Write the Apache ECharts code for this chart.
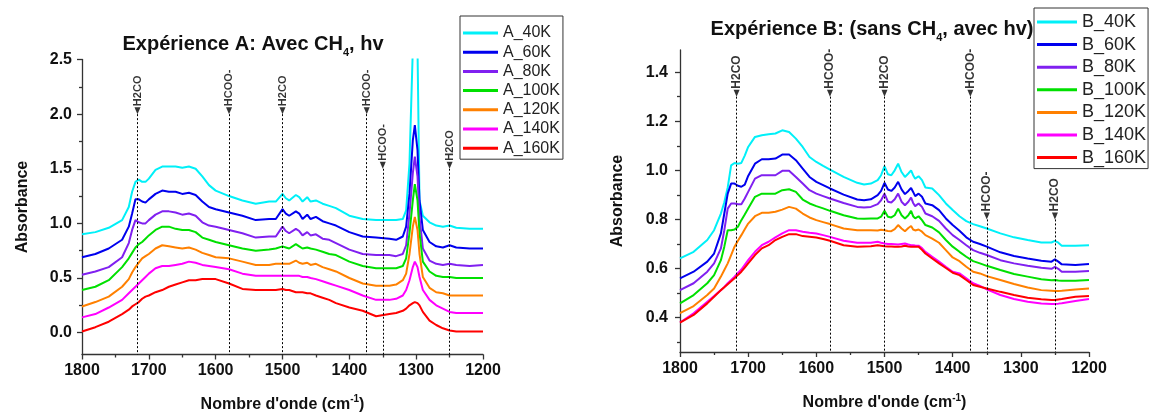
<!DOCTYPE html>
<html><head><meta charset="utf-8">
<script src="https://cdn.jsdelivr.net/npm/echarts@6/dist/echarts.min.js"></script>
<style>html,body{margin:0;padding:0;background:#fff}#c{width:1151px;height:414px}</style>
</head><body><div id="c"></div>
<script>
// ---------- DATA: Expérience A ----------
const wavenumberA = [1800,1780,1760,1740,1730,1725,1720,1715,1710,1705,1700,1690,1680,1670,1660,1650,1640,1630,1620,1610,1600,1580,1560,1540,1520,1510,1500,1495,1490,1480,1475,1470,1463,1458,1450,1440,1430,1420,1400,1380,1360,1340,1330,1320,1315,1310,1305,1302,1298,1295,1290,1280,1270,1260,1250,1240,1220,1200];
const A_40K  = [.90,.92,.96,1.03,1.15,1.29,1.38,1.40,1.38,1.38,1.41,1.49,1.52,1.52,1.52,1.51,1.52,1.50,1.43,1.35,1.30,1.25,1.21,1.18,1.20,1.20,1.27,1.23,1.21,1.26,1.24,1.20,1.24,1.20,1.21,1.18,1.16,1.14,1.07,1.04,1.03,1.03,1.03,1.04,1.12,1.55,2.6,2.9,2.6,1.21,1.07,1.01,.98,.97,.98,.96,.95,.95];
const A_60K  = [.69,.72,.77,.85,.97,1.09,1.22,1.22,1.20,1.19,1.22,1.27,1.30,1.29,1.29,1.27,1.28,1.26,1.20,1.15,1.13,1.10,1.07,1.03,1.04,1.04,1.13,1.09,1.07,1.11,1.09,1.04,1.08,1.04,1.06,1.02,1.00,.98,.92,.88,.87,.86,.85,.88,.97,1.27,1.76,1.90,1.67,1.21,.94,.83,.79,.78,.80,.78,.77,.77];
const A_80K  = [.53,.56,.60,.69,.82,.94,1.03,1.01,1.00,1.00,1.03,1.08,1.11,1.11,1.10,1.08,1.09,1.07,1.01,.98,.97,.94,.91,.87,.88,.88,.97,.93,.91,.95,.93,.89,.92,.89,.90,.86,.85,.82,.76,.72,.71,.71,.70,.72,.80,1.09,1.46,1.61,1.43,1.06,.77,.66,.63,.62,.63,.62,.61,.62];
const A_100K = [.39,.42,.48,.60,.68,.73,.78,.81,.83,.86,.89,.94,.97,.97,.95,.94,.94,.92,.87,.85,.83,.80,.77,.75,.76,.77,.79,.78,.77,.81,.79,.77,.78,.77,.76,.74,.72,.71,.65,.61,.59,.59,.59,.61,.68,.91,1.21,1.36,1.21,.91,.65,.56,.52,.51,.51,.50,.50,.50];
const A_120K = [.24,.28,.33,.42,.49,.55,.60,.64,.68,.70,.72,.77,.80,.79,.78,.77,.78,.76,.73,.71,.69,.68,.65,.62,.62,.63,.63,.63,.63,.66,.64,.63,.64,.62,.63,.60,.58,.56,.50,.45,.43,.43,.44,.48,.54,.72,.97,1.06,.94,.72,.51,.41,.37,.36,.34,.34,.34,.34];
const A_140K = [.14,.17,.23,.30,.36,.39,.42,.45,.48,.51,.54,.59,.61,.61,.62,.63,.65,.64,.62,.61,.60,.58,.54,.52,.52,.52,.52,.52,.52,.52,.52,.51,.51,.50,.49,.47,.45,.43,.39,.34,.30,.30,.31,.34,.39,.48,.60,.65,.60,.51,.39,.30,.25,.22,.19,.18,.18,.18];
const A_160K = [.01,.05,.10,.17,.21,.24,.26,.28,.31,.33,.34,.37,.39,.42,.44,.46,.48,.48,.49,.49,.49,.45,.40,.39,.39,.39,.40,.39,.39,.37,.37,.37,.36,.36,.34,.32,.30,.27,.23,.20,.15,.17,.18,.20,.22,.25,.27,.28,.27,.25,.19,.11,.07,.04,.02,.01,.01,.01];

// ---------- DATA: Expérience B ----------
const wavenumberB = [1800,1780,1760,1750,1740,1735,1730,1725,1720,1715,1710,1705,1700,1690,1680,1670,1660,1650,1640,1630,1620,1610,1600,1590,1580,1560,1540,1530,1520,1510,1505,1500,1495,1490,1485,1480,1475,1470,1465,1461,1458,1455,1450,1445,1440,1430,1420,1410,1400,1390,1380,1370,1360,1350,1330,1310,1290,1270,1255,1250,1245,1240,1220,1200];
const B_40K  = [.641,.668,.716,.756,.824,.87,.93,1.02,1.03,1.027,1.03,1.06,1.095,1.136,1.143,1.147,1.15,1.163,1.156,1.129,1.095,1.054,1.034,1.018,1.003,.973,.949,.942,.946,.96,.98,1.017,.984,.98,1.0,1.027,.993,.973,.987,1.0,.98,.966,.976,.96,.93,.926,.899,.865,.838,.813,.793,.781,.772,.763,.743,.727,.716,.706,.706,.713,.705,.693,.693,.695];
const B_60K  = [.56,.587,.628,.661,.743,.824,.905,.946,.946,.937,.933,.942,.977,1.027,1.045,1.045,1.048,1.064,1.064,1.041,1.007,.973,.953,.94,.926,.901,.881,.878,.882,.899,.916,.949,.922,.916,.93,.953,.922,.903,.916,.928,.912,.895,.905,.892,.865,.858,.838,.804,.777,.754,.727,.709,.70,.689,.666,.651,.641,.632,.628,.637,.628,.617,.614,.618];
const B_80K  = [.512,.54,.587,.621,.682,.756,.844,.865,.865,.862,.862,.885,.912,.966,.98,.98,.98,.998,.998,.973,.946,.919,.905,.895,.885,.867,.851,.849,.851,.862,.878,.905,.872,.869,.882,.905,.872,.858,.872,.889,.867,.854,.865,.851,.824,.813,.794,.763,.736,.716,.695,.675,.664,.655,.634,.621,.611,.603,.599,.607,.599,.587,.587,.59];
const B_100K = [.458,.492,.54,.573,.634,.689,.756,.756,.759,.77,.797,.82,.844,.892,.905,.905,.905,.919,.923,.912,.881,.865,.854,.845,.835,.817,.804,.803,.804,.804,.811,.835,.811,.808,.817,.844,.817,.804,.817,.835,.813,.804,.813,.797,.777,.767,.747,.716,.689,.668,.648,.63,.621,.611,.594,.578,.567,.556,.552,.553,.551,.55,.55,.553];
const B_120K = [.418,.447,.492,.519,.567,.594,.621,.655,.689,.713,.736,.76,.783,.813,.827,.827,.831,.84,.851,.844,.824,.808,.797,.789,.781,.763,.756,.756,.756,.755,.758,.756,.753,.752,.76,.777,.763,.752,.765,.773,.759,.755,.759,.75,.736,.722,.705,.675,.645,.63,.607,.587,.58,.569,.553,.537,.523,.512,.509,.508,.508,.509,.515,.519];
const B_140K = [.38,.418,.465,.488,.512,.525,.54,.553,.567,.582,.596,.615,.634,.668,.695,.709,.727,.743,.756,.756,.75,.746,.743,.736,.729,.713,.705,.705,.705,.709,.705,.702,.70,.70,.699,.698,.70,.702,.698,.695,.695,.694,.693,.683,.668,.648,.628,.607,.587,.58,.56,.54,.529,.515,.492,.476,.465,.458,.456,.456,.457,.459,.468,.476];
const B_160K = [.38,.411,.458,.485,.512,.524,.536,.548,.56,.574,.587,.604,.621,.655,.682,.695,.716,.729,.74,.74,.732,.729,.726,.72,.713,.695,.689,.69,.691,.695,.693,.691,.69,.69,.689,.689,.69,.693,.69,.689,.689,.689,.689,.676,.661,.641,.621,.602,.583,.573,.553,.533,.526,.519,.505,.492,.481,.475,.472,.472,.474,.476,.485,.488];

// ---------- Labels / ticks / annotations ----------
const seriesNamesA = ['A_40K','A_60K','A_80K','A_100K','A_120K','A_140K','A_160K'];
const seriesNamesB = ['B_40K','B_60K','B_80K','B_100K','B_120K','B_140K','B_160K'];
const yMajorA = [0,0.5,1.0,1.5,2.0,2.5];
const yMinorA = [0.25,0.75,1.25,1.75,2.25];
const yMajorB = [0.4,0.6,0.8,1.0,1.2,1.4];
const yMinorB = [0.3,0.5,0.7,0.9,1.1,1.3];
const yRangeA = [-0.2, 2.5];
const yRangeB = [0.26, 1.49];
const annotWavenumber = [1717,1580,1500,1374,1350,1250];
const annotText = ['H2CO','HCOO-','H2CO','HCOO-','HCOO-','H2CO'];
const annotTipA = [2.0,2.0,2.0,2.0,1.5,1.5];
const annotTipB = [1.3,1.3,1.3,1.3,0.8,0.8];

// ---------- Styling ----------
const FONT = "'Liberation Sans', Arial, Helvetica, sans-serif";
const AX = '#333';
const colors = ['#00F0F8','#0000EE','#8020F0','#00E000','#FF8000','#FF00FF','#FF0000'];
const valuesA = [A_40K,A_60K,A_80K,A_100K,A_120K,A_140K,A_160K];
const valuesB = [B_40K,B_60K,B_80K,B_100K,B_120K,B_140K,B_160K];

function lineSeries(name, xs, ys, xi, yi, color){
  return {name, type:'line', xAxisIndex:xi, yAxisIndex:yi, data: xs.map((x,i)=>[x, ys[i]]),
    showSymbol:false, symbol:'none', clip:true, lineStyle:{color, width:2}, itemStyle:{color}, z:3, silent:true};
}
function xAxisCfg(gi, margin, nameGap){
  return {type:'value', gridIndex:gi, min:1200, max:1800, interval:100, inverse:true,
    axisLine:{show:true, onZero:false, lineStyle:{color:AX, width:1.3}},
    axisTick:{show:true, inside:false, length:5, lineStyle:{color:AX, width:1.3}},
    minorTick:{show:true, splitNumber:2, length:3, lineStyle:{color:AX, width:1.3}},
    splitLine:{show:false}, minorSplitLine:{show:false},
    axisLabel:{show:true, showMinLabel:true, showMaxLabel:true, margin, formatter:v=>String(Math.round(v)),
      fontSize:16, fontWeight:'bold', fontFamily:FONT, color:'#111'},
    name:"Nombre d'onde (cm{sup|-1})", nameLocation:'middle', nameGap,
    nameTextStyle:{fontSize:16, fontWeight:'bold', fontFamily:FONT, color:'#111', lineHeight:20,
      rich:{sup:{fontSize:10, fontWeight:'bold', fontFamily:FONT, color:'#111', lineHeight:10, verticalAlign:'top'}}}};
}
function yAxisMain(gi, range, ticks, nameGap, margin){
  return {type:'value', gridIndex:gi, min:range[0], max:range[1], position:'left',
    axisLine:{show:true, onZero:false, lineStyle:{color:AX, width:1.3}},
    axisTick:{show:true, inside:false, length:5, customValues:ticks, lineStyle:{color:AX, width:1.3}},
    axisLabel:{show:true, customValues:ticks, formatter:v=>Number(v).toFixed(1), margin, fontSize:16, fontWeight:'bold', fontFamily:FONT, color:'#111'},
    splitLine:{show:false},
    name:'Absorbance', nameLocation:'middle', nameGap, nameRotate:90,
    nameTextStyle:{fontSize:16, fontWeight:'bold', fontFamily:FONT, color:'#111'}};
}
function yAxisMinor(gi, range, ticks){
  return {type:'value', gridIndex:gi, min:range[0], max:range[1], position:'left',
    axisLine:{show:false, onZero:false}, axisLabel:{show:false}, splitLine:{show:false},
    axisTick:{show:true, inside:false, length:3, customValues:ticks, lineStyle:{color:AX, width:1.3}}};
}
function annotSeries(xi, yi, tips, yMin, fontSize){
  return {type:'scatter', xAxisIndex:xi, yAxisIndex:yi, silent:true, z:5, clip:false,
    data: annotWavenumber.map((x,i)=>({value:[x, tips[i]], name:annotText[i]})),
    symbol:'path://M0,0 L10,0 L5,12 Z', symbolSize:[6,7], symbolOffset:[0,-3.5],
    itemStyle:{color:'#000'},
    label:{show:true, formatter:'{b}', position:'top', rotate:90, align:'left', verticalAlign:'middle', distance:1,
      fontSize, fontWeight:'bold', fontFamily:FONT, color:'#000'},
    markLine:{silent:true, symbol:['none','none'], label:{show:false}, animation:false,
      lineStyle:{color:'#000', type:[2,2], width:1},
      data: annotWavenumber.map((x,i)=>[{coord:[x, tips[i]]},{coord:[x, yMin]}])}};
}

const series = [];
seriesNamesA.forEach((n,i)=>series.push(lineSeries(n, wavenumberA, valuesA[i], 0, 0, colors[i])));
seriesNamesB.forEach((n,i)=>series.push(lineSeries(n, wavenumberB, valuesB[i], 1, 2, colors[i])));
series.push(annotSeries(0, 0, annotTipA, yRangeA[0], 11));
series.push(annotSeries(1, 2, annotTipB, yRangeB[0], 12));

const chart = echarts.init(document.getElementById('c'), null, {renderer:'canvas'});
chart.setOption({
  animation:false,
  backgroundColor:'#fff',
  title:[
    {text:'Expérience A: Avec CH{sub|4}, hv', left:253, top:30, textAlign:'center', padding:0,
     textStyle:{fontSize:20, fontWeight:'bold', fontFamily:FONT, color:'#111', lineHeight:28,
       rich:{sub:{fontSize:11, fontWeight:'bold', fontFamily:FONT, color:'#111', lineHeight:6, verticalAlign:'bottom'}}}},
    {text:'Expérience B: (sans CH{sub|4}, avec hv)', left:872, top:15, textAlign:'center', padding:0,
     textStyle:{fontSize:20, fontWeight:'bold', fontFamily:FONT, color:'#111', lineHeight:28,
       rich:{sub:{fontSize:11, fontWeight:'bold', fontFamily:FONT, color:'#111', lineHeight:6, verticalAlign:'bottom'}}}}
  ],
  legend:[
    {data:seriesNamesA, orient:'vertical', left:460, top:16, padding:[9,3,3,3], itemGap:3.2, itemWidth:35, itemHeight:3,
     icon:'rect', borderColor:'#333', borderWidth:1, selectedMode:false,
     textStyle:{fontSize:16, fontFamily:FONT, color:'#222', lineHeight:16}},
    {data:seriesNamesB, orient:'vertical', left:1034, top:8, padding:[5,2,2,3], itemGap:4.6, itemWidth:40, itemHeight:3,
     icon:'rect', borderColor:'#333', borderWidth:1, selectedMode:false,
     textStyle:{fontSize:18, fontFamily:FONT, color:'#222', lineHeight:18}}
  ],
  grid:[
    {left:82, top:59.5, width:401, height:295, outerBoundsMode:'none', containLabel:false},
    {left:680, top:50, width:409, height:302, outerBoundsMode:'none', containLabel:false}
  ],
  xAxis:[xAxisCfg(0, 8, 40), xAxisCfg(1, 9, 41)],
  yAxis:[
    yAxisMain(0, yRangeA, yMajorA, 51, 10),
    yAxisMinor(0, yRangeA, yMinorA),
    yAxisMain(1, yRangeB, yMajorB, 54, 12),
    yAxisMinor(1, yRangeB, yMinorB)
  ],
  series
});
</script></body></html>
